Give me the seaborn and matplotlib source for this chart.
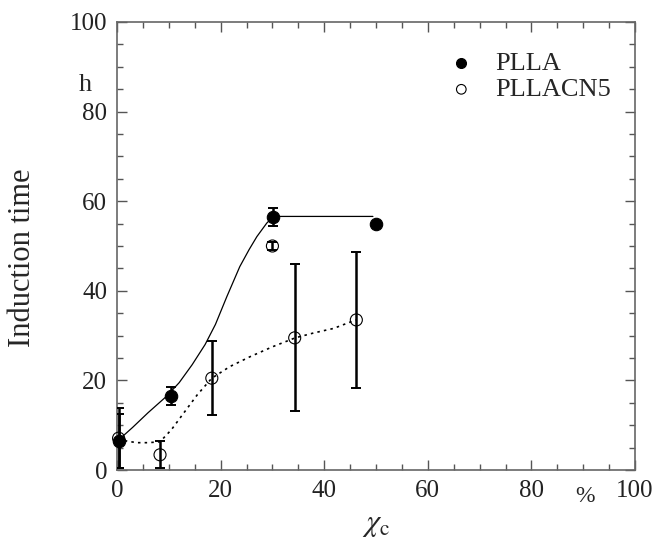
import pandas as pd
import seaborn as sns
import matplotlib.pyplot as plt

# Datos
plla_x = [0.3, 10.4, 30.1, 50.0]
plla_y = [6.5, 16.5, 56.5, 55.0]
plla_err = [6.1, 2.0, 2.0, 0.0]

cn5_x = [0.3, 8.3, 18.3, 30.0, 34.3, 46.2]
cn5_y = [7.1, 3.4, 20.5, 50.0, 29.5, 33.5]
cn5_err = [6.7, 3.0, 8.3, 1.0, 16.4, 15.1]

# Curvas de ajuste
plla_fit_x = [0.3, 3, 6, 9.6, 12, 14.5, 17, 19, 21.2, 23.7, 25.5, 27.0, 28.9, 30.2, 49.4]
plla_fit_y = [6.7, 9.5, 12.8, 16.5, 19.5, 23.5, 28.0, 32.5, 38.7, 45.4, 49.2, 52.1, 55.1, 56.6, 56.6]

cn5_fit_x = [0.3, 2, 4, 6, 8.3, 10.5, 12.8, 15.5, 18.3, 21.8, 25.7, 30, 34.4, 38, 41.8, 46.1]
cn5_fit_y = [7.1, 6.4, 6.1, 6.1, 6.3, 9.0, 12.6, 16.8, 20.5, 23.1, 25.3, 27.5, 29.5, 30.6, 31.6, 33.5]

x_ticks = [0, 20, 40, 60, 80, 100]
y_ticks = [0, 20, 40, 60, 80, 100]


def main():
    sns.set_theme(style="ticks")
    plt.rcParams["font.family"] = ["Liberation Serif", "DejaVu Serif"]
    plt.rcParams["mathtext.fontset"] = "stix"

    df_plla = pd.DataFrame({"x": plla_x, "y": plla_y})
    df_cn5 = pd.DataFrame({"x": cn5_x, "y": cn5_y})
    fit_plla = pd.DataFrame({"x": plla_fit_x, "y": plla_fit_y})
    fit_cn5 = pd.DataFrame({"x": cn5_fit_x, "y": cn5_fit_y})

    fig = plt.figure(figsize=(6.56, 5.44), dpi=100)
    ax = fig.add_axes([0.1784, 0.136, 0.7896, 0.8236])

    # Curvas
    sns.lineplot(data=fit_plla, x="x", y="y", sort=False, color="black",
                 linewidth=0.9, ax=ax)
    sns.lineplot(data=fit_cn5, x="x", y="y", sort=False, color="black",
                 linewidth=1.2, linestyle=(0, (1.5, 2.5)), ax=ax)

    # Barras de error
    ax.errorbar(plla_x, plla_y, yerr=plla_err, fmt="none", ecolor="black",
                elinewidth=1.8, capsize=3.5, capthick=1.4, zorder=3)
    ax.errorbar(cn5_x, cn5_y, yerr=cn5_err, fmt="none", ecolor="black",
                elinewidth=1.8, capsize=3.5, capthick=1.4, zorder=3)

    # Puntos
    sns.scatterplot(data=df_plla, x="x", y="y", color="black", s=80,
                    edgecolor="black", linewidth=0.8, label="PLLA",
                    zorder=4, clip_on=False, ax=ax)
    sns.scatterplot(data=df_cn5, x="x", y="y", facecolor="none", s=75,
                    edgecolor="black", linewidth=0.8, label="PLLACN5",
                    zorder=4, clip_on=False, ax=ax)

    ax.set_xlim(0, 100)
    ax.set_ylim(0, 100)
    ax.set_xticks(x_ticks)
    ax.set_yticks(y_ticks)
    ax.set_xticks(range(0, 101, 5), minor=True)
    ax.set_yticks(range(0, 101, 5), minor=True)
    ax.tick_params(which="both", direction="in", top=True, right=True,
                   color="#555555", labelsize=18, labelcolor="#222222")
    ax.tick_params(which="major", length=7, width=1.0, pad=7)
    ax.tick_params(which="minor", length=4, width=1.0)
    for sp in ax.spines.values():
        sp.set_color("#666666")
        sp.set_linewidth(1.2)

    ax.set_xlabel("$\\chi_{\\mathrm{c}}$", fontsize=22)
    ax.set_ylabel("Induction time", fontsize=22)
    ax.xaxis.set_label_coords(0.5, -0.09)
    ax.yaxis.set_label_coords(-0.155, 0.473)

    # Unidades
    ax.text(-0.062, 0.86, "h", transform=ax.transAxes, fontsize=19,
            ha="center", va="center")
    ax.text(0.903, -0.058, "%", transform=ax.transAxes, fontsize=17,
            ha="center", va="center")

    handles, labels = ax.get_legend_handles_labels()
    ax.legend(handles, labels, loc="upper right", bbox_to_anchor=(0.99, 0.975),
              frameon=False, fontsize=19, handletextpad=0.3, labelspacing=0.1,
              markerscale=0.8, borderaxespad=0.3)

    fig.savefig("out.png", dpi=100)


if __name__ == "__main__":
    main()
